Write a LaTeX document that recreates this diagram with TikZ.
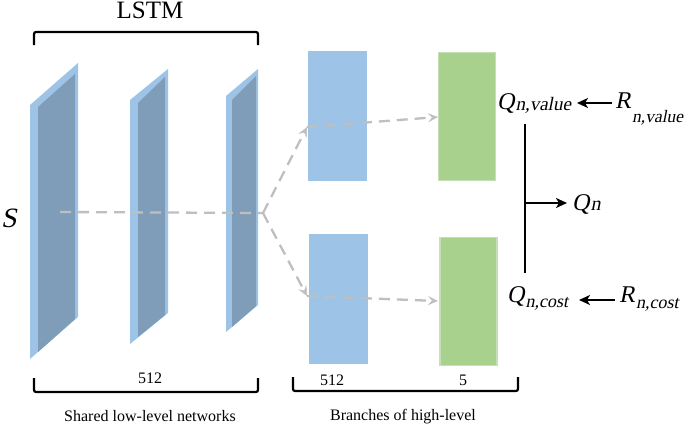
\documentclass[tikz,border=0pt]{standalone}
\usepackage{fontspec}
\setmainfont{Liberation Serif}
\newfontfamily\labfont{Liberation Serif}[FakeSlant=0.2]
\usetikzlibrary{arrows.meta}
\definecolor{slabLight}{HTML}{9DC3E6}
\definecolor{slabDark}{HTML}{7F9DB9}
\definecolor{boxBlue}{HTML}{9DC3E6}
\definecolor{boxGreen}{HTML}{A9D18E}
\definecolor{boxGreenEdge}{HTML}{C5E0B4}
\definecolor{flowgray}{HTML}{BFBFBF}
\newcommand{\sublab}[4]{{\fontsize{24}{24}\labfont #1}\kern1pt\raisebox{#4}{\fontsize{#3}{#3}\labfont #2}}
\begin{document}
\begin{tikzpicture}[x=1pt,y=-1pt,
  slabout/.style={fill=slabLight,draw=none},
  slabin/.style={fill=slabDark,draw=none},
  bluebox/.style={fill=boxBlue,draw=none,minimum width=59pt,minimum height=130pt,inner sep=0pt,outer sep=0pt},
  greenbox/.style={fill=boxGreen,draw=boxGreenEdge,line width=1.5pt,minimum width=57pt,minimum height=128pt,inner sep=0pt,outer sep=0pt},
  brk/.style={line width=2.2pt,rounded corners=2pt},
  flow/.style={draw=flowgray,line width=2.3pt,dash pattern=on 11pt off 7pt},
  flowarr/.style={flow,-{Stealth[length=10pt,width=9pt,inset=4pt,line width=0.5pt]}},
  blkarr/.style={line width=1.8pt,-{Stealth[length=11pt,width=10pt,inset=3pt]}},
  txt/.style={inner sep=0pt,font=\fontsize{16}{16}\selectfont},
  lab/.style={inner sep=0pt,anchor=base west}]
\useasboundingbox (0,0) rectangle (685,424);
% slabs
\fill[slabout] (30,105) -- (78,63) -- (78,317) -- (30,359) -- cycle;
\fill[slabin] (38,107) -- (75,74) -- (75,319) -- (38,352) -- cycle;
\fill[slabout] (130,100) -- (168,69) -- (168,313) -- (130,344) -- cycle;
\fill[slabin] (138,103) -- (165,77) -- (165,315) -- (138,337) -- cycle;
\fill[slabout] (226,96) -- (258,69) -- (258,305) -- (226,332) -- cycle;
\fill[slabin] (232,100) -- (256,76) -- (256,306) -- (232,327) -- cycle;
% boxes
\node[bluebox] (b1) at (337.5,116) {};
\node[bluebox] (b2) at (338.5,298.5) {};
\node[greenbox] (g1) at (467,116.5) {};
\node[greenbox] (g2) at (468.5,301.5) {};
% brackets
\draw[brk] (34,45) -- (34,32) -- (258,32) -- (258,45);
\draw[brk] (34,378) -- (34,392) -- (258,392) -- (258,378);
\draw[brk] (293,377) -- (293,391) -- (518,391) -- (518,377);
% texts
\node[inner sep=0pt,anchor=base,font=\fontsize{25}{25}\selectfont] (lstm) at (150,18.5) {LSTM};
\node[txt,anchor=base] (n1) at (150,383) {512};
\node[txt,anchor=base] (n2) at (332,385) {512};
\node[txt,anchor=base] (n3) at (463,385) {5};
\node[txt,anchor=base] (c1) at (150,421) {Shared low-level networks};
\node[txt,anchor=base] (c2) at (403,420) {Branches of high-level};
\node[lab,font=\fontsize{28}{28}\labfont] (s) at (1,227) {S};
% flow
\coordinate (s0) at (60,212);
\coordinate (split) at (263,213);
\coordinate (bt) at (307,127);
\coordinate (gt) at (438,117);
\coordinate (bb) at (307,296);
\coordinate (gb) at (438,301);
\draw[flow] (s0) -- (split);
\draw[flowarr] (split) -- (bt);
\draw[flowarr] (bt) -- (gt);
\draw[flowarr] (split) -- (bb);
\draw[flowarr] (bb) -- (gb);
% labels
\node[lab] (qv) at (497,109) {\sublab{Q}{n,value}{19}{-1pt}};
\node[lab] (rv) at (615,108) {\sublab{R}{n,value}{17.5}{-14pt}};
\node[lab] (qn) at (572,210) {\sublab{Q}{n}{20}{0pt}};
\node[lab] (qc) at (507,302) {\sublab{Q}{n,cost}{18}{-5pt}};
\node[lab] (rc) at (619,302) {\sublab{R}{n,cost}{18}{-6pt}};
% black connectors
\coordinate (rvA) at (612,103);
\coordinate (qvA) at (577,103);
\coordinate (rcA) at (615,300);
\coordinate (qcA) at (579,300);
\coordinate (vt) at (525,124);
\coordinate (vb) at (525,273);
\coordinate (vm) at (525,203);
\coordinate (qnA) at (567,203);
\draw[blkarr] (rvA) -- (qvA);
\draw[blkarr] (rcA) -- (qcA);
\draw[line width=2pt] (vt) -- (vb);
\draw[blkarr] (vm) -- (qnA);
\end{tikzpicture}
\end{document}
